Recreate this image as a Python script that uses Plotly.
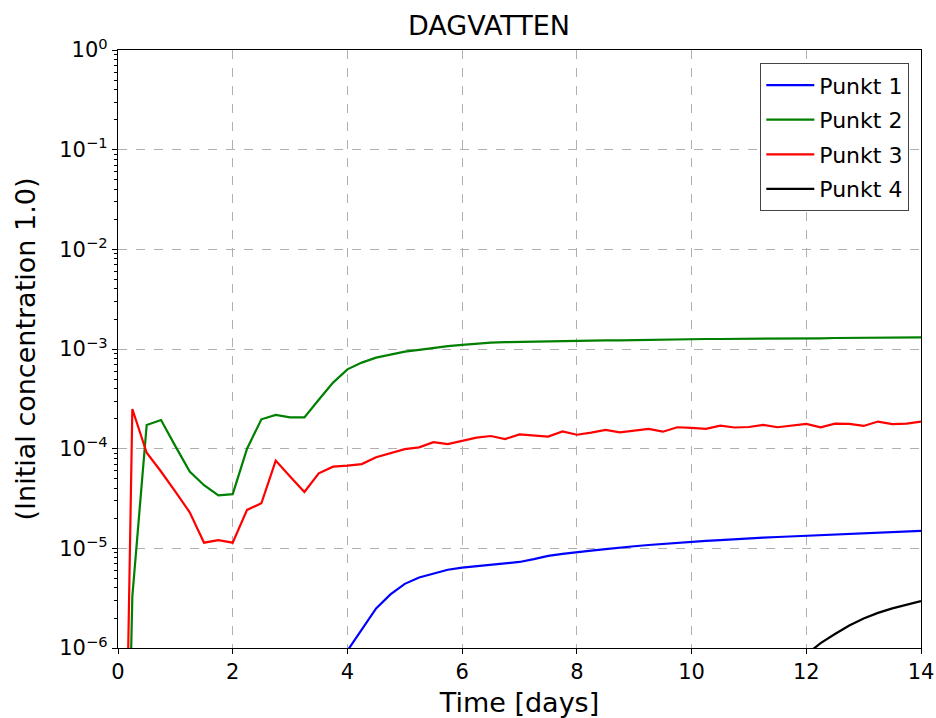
import numpy as np
import plotly.graph_objects as go

# Sample times (days) for the two early-arriving points
days = np.arange(0, 14.001, 0.25)

# Punkt 2 (green) concentration
punkt2 = [1e-12, 3.3e-6, 1.73e-4, 1.94e-4, 1.06e-4, 5.9e-5, 4.3e-5, 3.4e-5, 3.5e-5,
          1.0e-4, 1.97e-4, 2.18e-4, 2.06e-4, 2.06e-4, 3.1e-4, 4.6e-4, 6.25e-4,
          7.3e-4, 8.2e-4, 8.8e-4, 9.4e-4, 9.8e-4, 1.03e-3, 1.07e-3, 1.10e-3,
          1.13e-3, 1.16e-3, 1.17e-3, 1.18e-3, 1.19e-3, 1.19e-3, 1.20e-3, 1.21e-3,
          1.21e-3, 1.22e-3, 1.22e-3, 1.23e-3, 1.24e-3, 1.24e-3, 1.25e-3, 1.25e-3,
          1.26e-3, 1.26e-3, 1.26e-3, 1.27e-3, 1.27e-3, 1.27e-3, 1.28e-3, 1.28e-3,
          1.28e-3, 1.29e-3, 1.29e-3, 1.29e-3, 1.30e-3, 1.30e-3, 1.30e-3, 1.31e-3]

# Punkt 3 (red) concentration
punkt3 = [1e-12, 2.5e-4, 9.1e-5, 5.9e-5, 3.7e-5, 2.3e-5, 1.14e-5, 1.21e-5, 1.14e-5,
          2.43e-5, 2.83e-5, 7.6e-5, 5.25e-5, 3.68e-5, 5.66e-5, 6.6e-5, 6.76e-5,
          7.0e-5, 8.2e-5, 9.0e-5, 9.9e-5, 1.03e-4, 1.16e-4, 1.11e-4, 1.19e-4,
          1.29e-4, 1.34e-4, 1.25e-4, 1.39e-4, 1.36e-4, 1.32e-4, 1.49e-4, 1.38e-4,
          1.45e-4, 1.54e-4, 1.46e-4, 1.52e-4, 1.58e-4, 1.48e-4, 1.64e-4, 1.62e-4,
          1.58e-4, 1.70e-4, 1.63e-4, 1.65e-4, 1.73e-4, 1.64e-4, 1.69e-4, 1.77e-4,
          1.64e-4, 1.78e-4, 1.77e-4, 1.69e-4, 1.87e-4, 1.76e-4, 1.78e-4, 1.87e-4]

# Punkt 1 (blue) from day 4 onwards
days_p1 = np.arange(4.0, 14.001, 0.25)
punkt1 = [9.4e-7, 1.55e-6, 2.5e-6, 3.45e-6, 4.4e-6, 5.1e-6, 5.6e-6, 6.1e-6, 6.4e-6,
          6.6e-6, 6.8e-6, 7.0e-6, 7.3e-6, 7.8e-6, 8.4e-6, 8.8e-6, 9.2e-6, 9.5e-6,
          9.8e-6, 1.02e-5, 1.05e-5, 1.08e-5, 1.11e-5, 1.14e-5, 1.17e-5, 1.19e-5,
          1.21e-5, 1.24e-5, 1.26e-5, 1.28e-5, 1.30e-5, 1.32e-5, 1.35e-5, 1.37e-5,
          1.39e-5, 1.41e-5, 1.43e-5, 1.45e-5, 1.47e-5, 1.49e-5, 1.50e-5]

# Punkt 4 (black) from day 12 onwards
days_p4 = np.arange(12.0, 14.001, 0.25)
punkt4 = [8.6e-7, 1.12e-6, 1.38e-6, 1.68e-6, 1.98e-6, 2.25e-6, 2.5e-6, 2.72e-6, 2.95e-6]

x_ticks = [0, 2, 4, 6, 8, 10, 12, 14]
y_ticks = [1e-6, 1e-5, 1e-4, 1e-3, 1e-2, 1e-1, 1e0]
y_ticktext = ["10<sup>\u22126</sup>", "10<sup>\u22125</sup>", "10<sup>\u22124</sup>",
              "10<sup>\u22123</sup>", "10<sup>\u22122</sup>", "10<sup>\u22121</sup>",
              "10<sup>0</sup>"]

FONT = "DejaVu Sans"

fig = go.Figure()
series = [
    ("Punkt 1", days_p1, punkt1, "#0000ff"),
    ("Punkt 2", days, punkt2, "#008000"),
    ("Punkt 3", days, punkt3, "#ff0000"),
    ("Punkt 4", days_p4, punkt4, "#000000"),
]
for name, x, y, color in series:
    fig.add_trace(go.Scatter(
        x=x, y=y, mode="lines", name=name, legendgroup=name,
        line=dict(color=color, width=2.2),
    ))

axis_common = dict(
    showline=True, linecolor="black", linewidth=1.3, mirror=True,
    ticks="outside", ticklen=5, tickwidth=1.3, tickcolor="black",
    showgrid=True, gridcolor="#b0b0b0", griddash="dash", gridwidth=1,
    zeroline=False, automargin=False,
    tickfont=dict(family=FONT, size=21, color="black"),
)

fig.update_layout(
    width=936, height=718,
    margin=dict(l=118, r=15, t=50, b=70),
    paper_bgcolor="white", plot_bgcolor="white",
    font=dict(family=FONT, color="black"),
    title=dict(text="DAGVATTEN", font=dict(family=FONT, size=27, color="black"),
               x=489 / 936, xref="container", xanchor="center",
               y=1 - 26 / 718, yref="container", yanchor="middle"),
    xaxis=dict(range=[0, 14], tickvals=x_ticks,
               title=dict(text="Time [days]", font=dict(family=FONT, size=27), standoff=11),
               **axis_common),
    yaxis=dict(type="log", range=[-6, 0], tickvals=y_ticks, ticktext=y_ticktext,
               minor=dict(ticks="outside", ticklen=3, tickcolor="black", dtick="D1",
                          showgrid=False),
               title=dict(text="(Initial concentration 1.0)",
                          font=dict(family=FONT, size=27), standoff=15),
               **axis_common),
    legend=dict(x=(909 - 118) / 803, y=(648 - 63) / 598, xanchor="right", yanchor="top",
                bgcolor="white", bordercolor="#444444", borderwidth=1.3,
                font=dict(family=FONT, size=22, color="black"),
                tracegroupgap=3, itemwidth=48),
    showlegend=True,
)

fig.write_html("out.html")
